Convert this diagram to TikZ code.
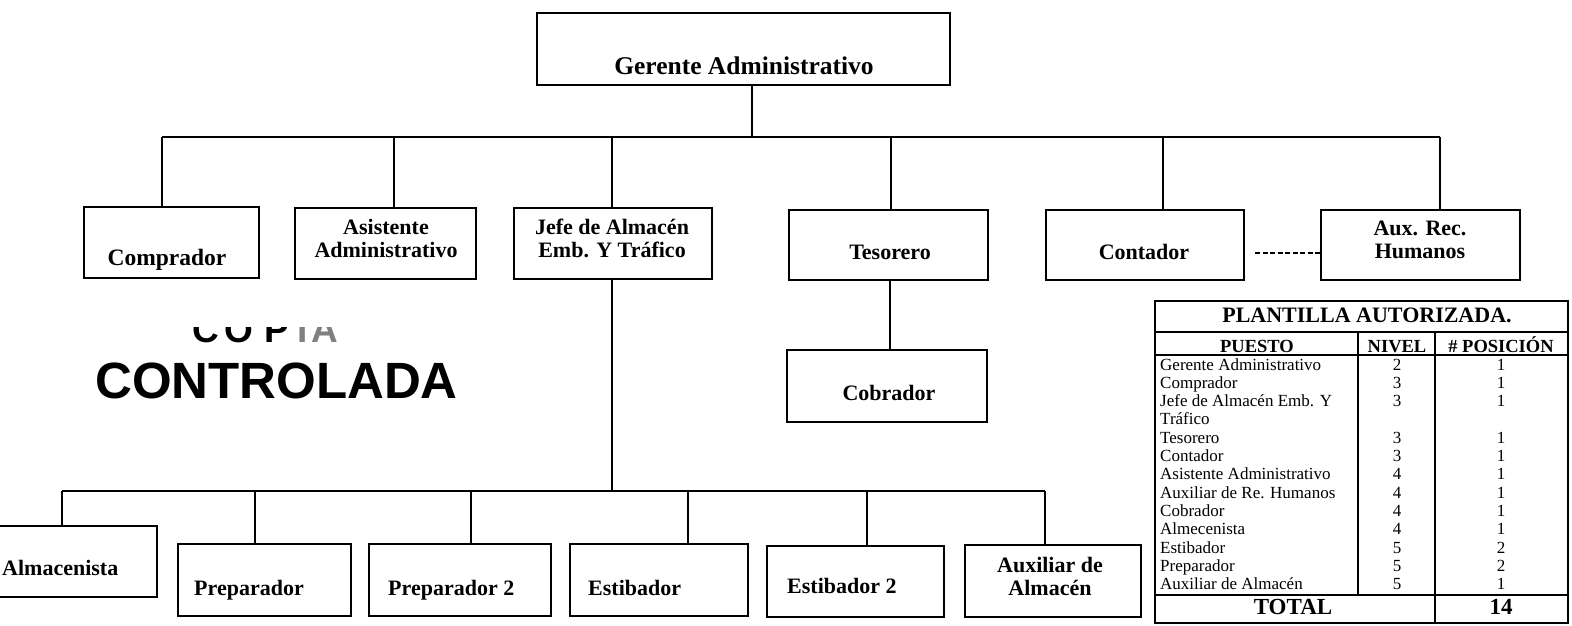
\documentclass[tikz,border=0pt]{standalone}
\usepackage{fontspec}
\setmainfont{Liberation Serif}
\newfontfamily\stampfont{Liberation Sans}
\usetikzlibrary{fit}
\begin{document}
\begin{tikzpicture}[x=1pt,y=-1pt,
  bx/.style={draw, line width=1.4pt, inner sep=0pt},
  lbl/.style={font=\bfseries\fontsize{22}{23}\selectfont, align=center, anchor=base, inner sep=0pt},
  ln/.style={line width=1.4pt},
  tb/.style={line width=2.4pt},
  tl/.style={line width=1.8pt},
  td/.style={font=\fontsize{17}{18}\selectfont, inner sep=0pt, anchor=base},
  th/.style={font=\bfseries\fontsize{18.5}{19}\selectfont, inner sep=0pt, anchor=base},
  stamp/.style={font=\stampfont\bfseries\fontsize{51}{51}\selectfont, inner sep=0pt, anchor=base west}
]
\useasboundingbox (0,0) rectangle (1572,625);
\fill[white] (0,0) rectangle (1572,625);

% ---- top box
\node[bx, fit={(537,13) (950,85)}] (ger) {};
\node[lbl, font=\bfseries\fontsize{25.5}{26}\selectfont] (ger-t) at (744,74) {Gerente Administrativo};

% ---- level 2
\node[bx, fit={(84,207) (259,278)}] (comp) {};
\node[lbl, font=\bfseries\fontsize{23.5}{24}\selectfont] (comp-t) at (167,265) {Comprador};
\node[bx, fit={(295,208) (476,279)}] (asis) {};
\node[lbl] (asis-t) at (386,257) {Asistente\\Administrativo};
\node[bx, fit={(514,208) (712,279)}] (jefe) {};
\node[lbl] (jefe-t) at (612,257) {Jefe de Almacén\\Emb. Y Tráfico};
\node[bx, fit={(789,210) (988,280)}] (teso) {};
\node[lbl] (teso-t) at (890,259) {Tesorero};
\node[bx, fit={(1046,210) (1244,280)}] (cont) {};
\node[lbl] (cont-t) at (1144,259) {Contador};
\node[bx, fit={(1321,210) (1520,280)}] (aux) {};
\node[lbl] (aux-t) at (1420,258) {Aux. Rec.\\Humanos};
\node[bx, fit={(787,350) (987,422)}] (cobr) {};
\node[lbl] (cobr-t) at (889,400) {Cobrador};

% ---- level 3
\node[bx, fit={(-20,526) (157,597)}] (alm) {};
\node[lbl, anchor=base west] (alm-t) at (2,575) {Almacenista};
\node[bx, fit={(178,544) (351,616)}] (prep) {};
\node[lbl, anchor=base west] (prep-t) at (194,595) {Preparador};
\node[bx, fit={(369,544) (551,616)}] (prep2) {};
\node[lbl, anchor=base west] (prep2-t) at (388,595) {Preparador 2};
\node[bx, fit={(570,544) (748,616)}] (esti) {};
\node[lbl, anchor=base west] (esti-t) at (588,595) {Estibador};
\node[bx, fit={(767,546) (944,617)}] (esti2) {};
\node[lbl, anchor=base west] (esti2-t) at (787,593) {Estibador 2};
\node[bx, fit={(965,545) (1141,617)}] (auxa) {};
\node[lbl] (auxa-t) at (1050,595) {Auxiliar de\\Almacén};

% ---- connectors, level 1 -> 2
\coordinate (bar1) at (752,137);
\coordinate (barL) at (162,137);
\coordinate (barR) at (1440,137);
\coordinate (d2) at (394,137);
\coordinate (d3) at (612,137);
\coordinate (d4) at (891,137);
\coordinate (d5) at (1163,137);
\draw[ln] (ger.south -| bar1) -- (bar1);
\draw[ln] (barL) -- (barR);
\draw[ln] (barL) -- (barL |- comp.north);
\draw[ln] (d2) -- (d2 |- asis.north);
\draw[ln] (d3) -- (d3 |- jefe.north);
\draw[ln] (d4) -- (d4 |- teso.north);
\draw[ln] (d5) -- (d5 |- cont.north);
\draw[ln] (barR) -- (barR |- aux.north);
\coordinate (tx) at (890,300);
\draw[ln] (teso.south -| tx) -- (cobr.north -| tx);
\coordinate (dsh) at (1255,253);
\draw[ln, dash pattern=on 5pt off 2.5pt] (dsh) -- (dsh -| aux.west);

% ---- connectors, jefe -> level 3
\coordinate (jb) at (612,491);
\coordinate (bL) at (62,491);
\coordinate (bR) at (1045,491);
\coordinate (e2) at (255,491);
\coordinate (e3) at (471,491);
\coordinate (e4) at (688,491);
\coordinate (e5) at (867,491);
\draw[ln] (jefe.south -| jb) -- (jb);
\draw[ln] (bL) -- (bR);
\draw[ln] (bL) -- (bL |- alm.north);
\draw[ln] (e2) -- (e2 |- prep.north);
\draw[ln] (e3) -- (e3 |- prep2.north);
\draw[ln] (e4) -- (e4 |- esti.north);
\draw[ln] (e5) -- (e5 |- esti2.north);
\draw[ln] (bR) -- (bR |- auxa.north);

% ---- stamp
\node[stamp] (ctrl) at (95,398) {CONTROLADA};
\begin{scope}
\clip (150,327) rectangle (420,350);
\node[stamp, font=\stampfont\bfseries\fontsize{37}{37}\selectfont] (copia) at (192,342) {C\hspace{6pt}O\hspace{11pt}P\hspace{8pt}\textcolor{black!50}{I\hspace{4pt}A}};
\end{scope}

% ---- table
\node[draw, line width=2.4pt, inner sep=0pt, fit={(1155,301) (1568,623)}] (tab) {};
\draw[tb] (1155,332) -- (1568,332);
\draw[tb] (1155,355) -- (1568,355);
\draw[tb] (1155,595) -- (1568,595);
\draw[tl] (1358,332) -- (1358,595);
\draw[tl] (1435,332) -- (1435,623);
\node[font=\bfseries\fontsize{22}{22}\selectfont, inner sep=0pt, anchor=base] (title) at (1367,322) {PLANTILLA AUTORIZADA.};
\node[th] (h1) at (1257,352) {PUESTO};
\node[th] (h2) at (1397,352) {NIVEL};
\node[th] (h3) at (1501,352) {\# POSICIÓN};
\foreach \a/\b/\c [count=\i from 0] in {Gerente Administrativo/2/1, Comprador/3/1, Jefe de Almacén Emb. Y/3/1, Tráfico//, Tesorero/3/1, Contador/3/1, Asistente Administrativo/4/1, Auxiliar de Re. Humanos/4/1, Cobrador/4/1, Almecenista/4/1, Estibador/5/2, Preparador/5/2, Auxiliar de Almacén/5/1}{
  \pgfmathsetmacro\yy{370+18.33*\i}
  \node[td, anchor=base west] (pa\i) at (1160,\yy) {\a};
  \node[td] (pb\i) at (1397,\yy) {\b};
  \node[td] (pc\i) at (1501,\yy) {\c};
}
\node[font=\bfseries\fontsize{23}{23}\selectfont, inner sep=0pt, anchor=base] (tot) at (1293,614) {TOTAL};
\node[font=\bfseries\fontsize{23}{23}\selectfont, inner sep=0pt, anchor=base] (tot2) at (1501,614) {14};
\end{tikzpicture}
\end{document}
